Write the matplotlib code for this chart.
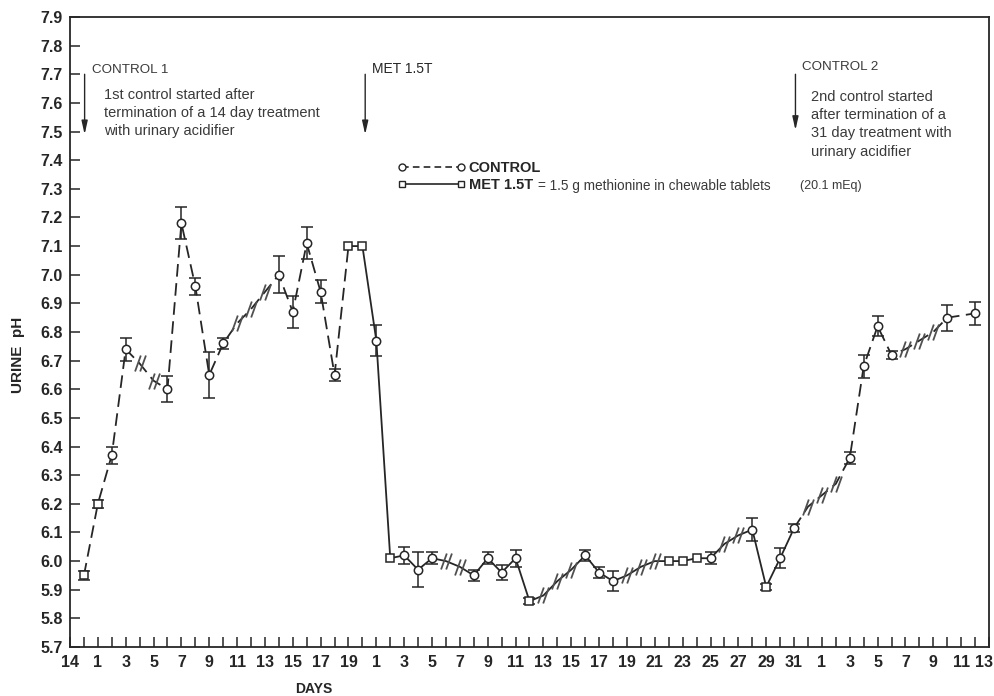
import matplotlib
matplotlib.use('Agg')
import matplotlib.pyplot as plt
from matplotlib.path import Path
from matplotlib.lines import Line2D
import matplotlib.transforms as mtransforms
import numpy as np

plt.rcParams['font.family'] = ['Liberation Sans', 'DejaVu Sans']

# ---------------- data ----------------
positions = [1, 2, 3, 4, 5, 6, 7, 8, 9, 10, 11, 12, 13, 14, 15, 16, 17, 18, 19, 20,
             21, 22, 23, 24, 25, 26, 27, 28, 29, 30, 31, 32, 33, 34, 35, 36, 37, 38, 39, 40,
             41, 42, 43, 44, 45, 46, 47, 48, 49, 50, 51, 52, 53, 54, 55, 56, 57, 58, 59, 60,
             61, 62, 63, 65]
ph = [5.95, 6.20, 6.37, 6.74, 6.69, 6.63, 6.60, 7.18, 6.96, 6.65, 6.76, 6.83, 6.88, 6.94, 7.00, 6.87, 7.11, 6.94, 6.65, 7.10,
      7.10, 6.77, 6.01, 6.02, 5.97, 6.01, 6.00, 5.98, 5.95, 6.01, 5.96, 6.01, 5.86, 5.88, 5.93, 5.97, 6.02, 5.96, 5.93, 5.95,
      5.98, 6.00, 6.00, 6.00, 6.01, 6.01, 6.06, 6.09, 6.11, 5.91, 6.01, 6.115, 6.19, 6.23, 6.27, 6.36, 6.68, 6.82, 6.72, 6.74,
      6.77, 6.80, 6.85, 6.865]
kinds = ['s', 's', 'o', 'o', '/', '/', 'o', 'o', 'o', 'o', 'o', '/', '/', '/', 'o', 'o', 'o', 'o', 'o', 's',
         's', 'o', 's', 'o', 'o', 'o', '/', '/', 'o', 'o', 'o', 'o', 's', '/', '/', '/', 'o', 'o', 'o', '/',
         '/', '/', 's', 's', 's', 'o', '/', '/', 'o', 's', 'o', 'o', '/', '/', '/', 'o', 'o', 'o', 'o', '/',
         '/', '/', 'o', 'o']
errs = [0.015, 0.015, 0.03, 0.04, 0, 0, 0.045, 0.055, 0.03, 0.08, 0.02, 0, 0, 0, 0.065, 0.055, 0.055, 0.04, 0.02, 0,
        0, 0.055, 0, 0.03, 0.06, 0.02, 0, 0, 0.02, 0.02, 0.025, 0.03, 0.01, 0, 0, 0, 0.02, 0.02, 0.035, 0,
        0, 0, 0, 0, 0, 0.02, 0, 0, 0.04, 0.01, 0.035, 0.015, 0, 0, 0, 0.02, 0.04, 0.035, 0.015, 0,
        0, 0, 0.045, 0.04]

# phases: (line style, first position, last position)
phases = [('dashed', 1, 20), ('solid', 20, 52), ('dashed', 52, 65)]

# x tick labels: 14, gap, days 1-19, gap, days 1-31, gap, days 1-13
seg_days = [19, 31, 13]
tick_labels = ['14', '']
for k, n in enumerate(seg_days):
    tick_labels += [str(d) if d % 2 == 1 else '' for d in range(1, n + 1)]
    if k < len(seg_days) - 1:
        tick_labels.append('')
y_ticks = [round(5.7 + 0.1 * i, 1) for i in range(23)]

# ---------------- figure ----------------
fig = plt.figure(figsize=(9.95, 6.96), dpi=100)
ax = fig.add_axes([70 / 995, 1 - 647 / 696, 919 / 995, 630 / 696])
ink = '#262626'
gray = '#505050'

pos = np.array(positions)
val = np.array(ph)
err = np.array(errs)
kind = np.array(kinds)

dash = (0, (7, 3.6))
for style, a, b in phases:
    m = (pos >= a) & (pos <= b)
    ax.plot(pos[m], val[m], color=ink, lw=1.3,
            linestyle=dash if style == 'dashed' else '-', zorder=2)

me = err > 0
ax.errorbar(pos[me], val[me], yerr=err[me], fmt='none', ecolor=ink,
            elinewidth=1.1, capsize=4, capthick=1.1, zorder=3)

slash = Path([(-0.34, -0.5), (0.02, 0.5), (-0.02, -0.5), (0.34, 0.5)],
             [Path.MOVETO, Path.LINETO, Path.MOVETO, Path.LINETO])
m = kind == '/'
ax.plot(pos[m], val[m], ls='none', marker=slash, markersize=11.5,
        markerfacecolor='none', markeredgecolor=gray, markeredgewidth=1.3, zorder=4)
m = kind == 'o'
ax.plot(pos[m], val[m], ls='none', marker='o', markersize=6,
        markerfacecolor='white', markeredgecolor=ink, markeredgewidth=1.1, zorder=5)
m = kind == 's'
ax.plot(pos[m], val[m], ls='none', marker='s', markersize=5.5,
        markerfacecolor='white', markeredgecolor=ink, markeredgewidth=1.1, zorder=5)

ax.set_xlim(0, len(tick_labels) - 1)
ax.set_ylim(5.7, 7.9)
ax.set_xticks(range(len(tick_labels)))
ax.set_xticklabels(tick_labels)
ax.set_yticks(y_ticks)
ax.set_yticklabels([f'{t:.1f}' for t in y_ticks])
ax.tick_params(axis='both', direction='in', length=7, width=1.1, colors=ink,
               labelsize=11.5)
ax.tick_params(axis='x', pad=6)
ax.tick_params(axis='y', pad=5)
for lab in ax.get_xticklabels() + ax.get_yticklabels():
    lab.set_fontweight('bold')
last = ax.get_xticklabels()[-1]
last.set_transform(last.get_transform() +
                   mtransforms.ScaledTranslation(-5 / 100, 0, fig.dpi_scale_trans))
for s in ax.spines.values():
    s.set_color(ink)
    s.set_linewidth(1.3)

fig.text(18 / 995, 1 - 355 / 696, 'URINE  pH', rotation=90, ha='center', va='center',
         fontsize=11, fontweight='bold', color=ink)
fig.text(314 / 995, 1 - 689 / 696, 'DAYS', ha='center', va='center',
         fontsize=10, fontweight='bold', color=ink)

# ---------------- annotations ----------------
txt = '#3a3a3a'
arrow = dict(arrowstyle='-|>,head_length=0.8,head_width=0.18', color=ink, lw=1.0,
             shrinkA=0, shrinkB=0)
ax.annotate('', xy=(1.05, 7.49), xytext=(1.05, 7.70), arrowprops=arrow)
ax.text(1.6, 7.715, 'CONTROL 1', fontsize=9.6, color=txt, va='center', ha='left')
ax.text(2.45, 7.652, '1st control started after\ntermination of a 14 day treatment\nwith urinary acidifier',
        fontsize=10.5, color=txt, va='top', ha='left', linespacing=1.38)

ax.annotate('', xy=(21.2, 7.49), xytext=(21.2, 7.70), arrowprops=arrow)
ax.text(21.7, 7.72, 'MET 1.5T', fontsize=10, color=ink, va='center', ha='left')

ax.annotate('', xy=(52.1, 7.505), xytext=(52.1, 7.70), arrowprops=arrow)
ax.text(52.6, 7.725, 'CONTROL 2', fontsize=9.6, color=txt, va='center', ha='left')
ax.text(53.2, 7.645, '2nd control started\nafter termination of a\n31 day treatment with\nurinary acidifier',
        fontsize=10.5, color=txt, va='top', ha='left', linespacing=1.38)

# ---------------- legend ----------------
h_ctrl = Line2D([], [], color=ink, lw=1.2, linestyle=(0, (4, 2.5)), marker='o', markersize=5,
                markerfacecolor='white', markeredgecolor=ink)
h_met = Line2D([], [], color=ink, lw=1.2, linestyle='-', marker='s', markersize=5,
               markerfacecolor='white', markeredgecolor=ink)
leg = ax.legend([h_ctrl, h_met], ['CONTROL', 'MET 1.5T'], numpoints=2, frameon=False,
                loc='upper left', bbox_to_anchor=(0.357, 0.772), borderpad=0, borderaxespad=0,
                handlelength=4.6, handletextpad=0.25, labelspacing=0.22,
                prop={'weight': 'bold', 'size': 10.5})
for t in leg.get_texts():
    t.set_color(ink)
ax.text(33.6, 7.310, '= 1.5 g methionine in chewable tablets',
        fontsize=9.8, color=txt, va='center', ha='left')
ax.text(52.4, 7.310, '(20.1 mEq)', fontsize=9, color=txt, va='center', ha='left')

fig.savefig('out.png', dpi=100, facecolor='white')
